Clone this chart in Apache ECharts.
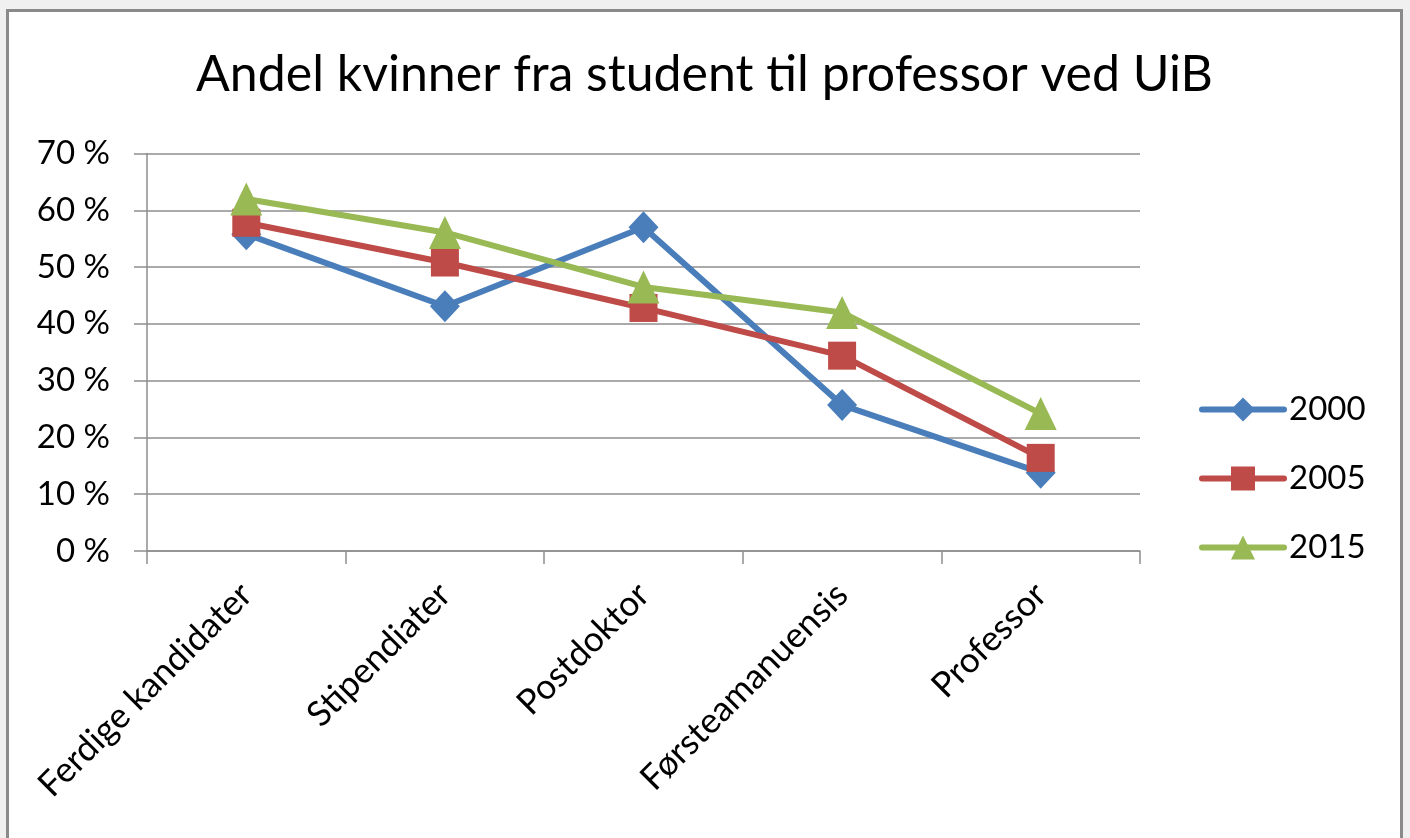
<!DOCTYPE html>
<html>
<head>
<meta charset="utf-8">
<script src="https://cdn.jsdelivr.net/npm/echarts/dist/echarts.min.js"></script>
<style>
  html, body { margin: 0; padding: 0; background: #f0f0f0; overflow: hidden; }
  #chart {
    position: absolute; left: 6px; top: 9px;
    width: 1391px; height: 840px;
    border: 3px solid #8a8a8a; background: #fff;
  }
</style>
</head>
<body>
<div id="chart"></div>
<script>
// kategorier langs x-aksen
const categories = ['Ferdige kandidater', 'Stipendiater', 'Postdoktor', 'Førsteamanuensis', 'Professor']
// andel kvinner i prosent
const v2000 = [55.8, 43.1, 57.0, 25.7, 13.8]
const v2005 = [57.8, 50.8, 42.8, 34.4, 16.4]
const v2015 = [62.0, 56.1, 46.5, 42.0, 24.2]
const years = ['2000', '2005', '2015']

const font = 'Lato'
const colorList = ['#4a7ebb', '#be4b48', '#98b954']

const chart = echarts.init(document.getElementById('chart'))
chart.setOption({
  animation: false,
  title: {
    text: 'Andel kvinner fra student til professor ved UiB',
    left: 'center',
    top: 33,
    textStyle: {
      fontFamily: font,
      fontSize: 50,
      fontWeight: 'normal',
      color: '#000'
    }
  },
  legend: {
    orient: 'vertical',
    left: 1185,
    top: 376,
    itemWidth: 82,
    itemHeight: 30,
    itemGap: 36,
    lineStyle: { width: 6, cap: 'round' },
    textStyle: {
      fontFamily: font,
      fontSize: 33,
      color: '#000'
    },
    data: years
  },
  grid: {
    left: 138,
    right: 260,
    top: 141.5,
    bottom: 301
  },
  xAxis: {
    type: 'category',
    data: categories,
    boundaryGap: true,
    axisLine: {
      lineStyle: { color: '#8e8e8e', width: 1.5 }
    },
    axisTick: {
      show: true,
      length: 13,
      lineStyle: { color: '#8e8e8e', width: 1.5 }
    },
    axisLabel: {
      interval: 0,
      rotate: 45,
      margin: 38,
      fontFamily: font,
      fontSize: 35,
      color: '#000'
    }
  },
  yAxis: {
    type: 'value',
    min: 0,
    max: 70,
    interval: 10,
    axisLine: {
      show: true,
      lineStyle: { color: '#8e8e8e', width: 1.5 }
    },
    axisTick: {
      show: true,
      length: 13,
      lineStyle: { color: '#8e8e8e', width: 1.5 }
    },
    axisLabel: {
      margin: 37,
      formatter: '{value} %',
      fontFamily: font,
      fontSize: 33,
      color: '#000'
    },
    splitLine: {
      lineStyle: { color: '#8e8e8e', width: 1.5 }
    }
  },
  series: [{
    name: years[0],
    type: 'line',
    data: v2000,
    symbol: 'diamond',
    symbolSize: [30, 32],
    lineStyle: { width: 6, color: colorList[0] },
    itemStyle: { color: colorList[0] }
  }, {
    name: years[1],
    type: 'line',
    data: v2005,
    symbol: 'rect',
    symbolSize: 28,
    lineStyle: { width: 6, color: colorList[1] },
    itemStyle: { color: colorList[1] }
  }, {
    name: years[2],
    type: 'line',
    data: v2015,
    symbol: 'triangle',
    symbolSize: [32, 33],
    lineStyle: { width: 6, color: colorList[2] },
    itemStyle: { color: colorList[2] }
  }]
})
</script>
</body>
</html>
